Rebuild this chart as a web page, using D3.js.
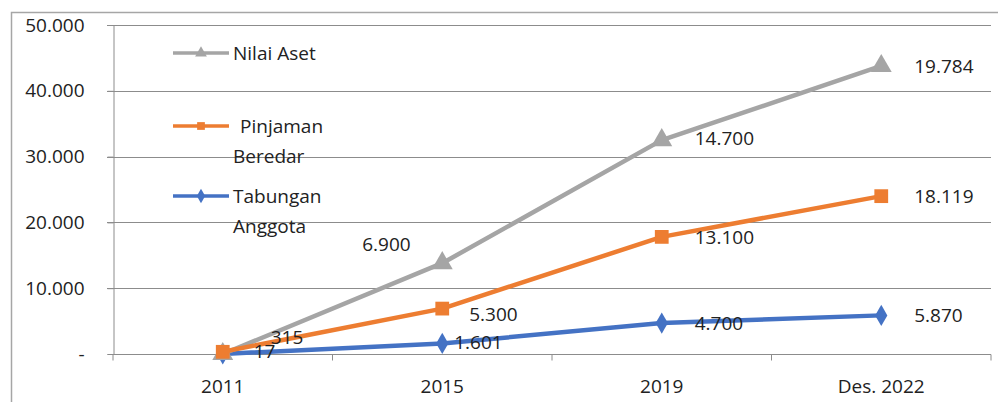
<!DOCTYPE html>
<html>
<head>
<meta charset="utf-8">
<script src="https://cdn.jsdelivr.net/npm/d3@7"></script>
<style>
  body { margin: 0; background: #fff; }
  svg { display: block; font-family: "Open Sans", sans-serif; }
</style>
</head>
<body>
<div class="chart"></div>
<script>
var width = 998, height = 402;
var fs = 19;

// data
var categories = ["2011", "2015", "2019", "Des. 2022"];
var tabungan = [17, 1601, 4700, 5870];
var pinjaman = [315, 5300, 13100, 18119];
var nilaiAset = [0, 6900, 14700, 19784];
var yTicks = [0, 10000, 20000, 30000, 40000, 50000];

// label text shown per point (null = no label)
var labelTab = ["17", "1.601", "4.700", "5.870"];
var labelPin = ["315", "5.300", "13.100", "18.119"];
var labelAset = [null, "6.900", "14.700", "19.784"];

// label offsets from the point (dx, dy)
var offTab = [[31, 4], [12, 6], [33, 7], [33, 7]];
var offPin = [[48, -8], [27, 12], [33, 7], [33, 7]];
var offAset = [[0, 0], [-80, -12], [33, 5], [33, 7]];

var svg = d3.select(".chart").append("svg")
    .attr("width", width)
    .attr("height", height);

// outer frame
svg.append("path")
    .attr("d", "M11.5," + height + "V12.5H" + width)
    .attr("fill", "none")
    .attr("stroke", "#a6a6a6")
    .attr("stroke-width", 1.5);

var x = d3.scaleBand().domain(categories).range([113, 991]);
var y = d3.scaleLinear().domain([0, 50000]).range([354, 25]);

// gridlines
svg.append("g").selectAll("line")
    .data(yTicks.slice(1))
    .enter().append("line")
    .attr("x1", 107).attr("x2", 991)
    .attr("y1", function(d) { return Math.round(y(d)) + 0.5; })
    .attr("y2", function(d) { return Math.round(y(d)) + 0.5; })
    .attr("stroke", "#8c8c8c")
    .attr("stroke-width", 1);

// y axis
var yAxis = d3.axisLeft(y)
    .tickValues(yTicks)
    .tickSize(6)
    .tickPadding(23)
    .tickFormat(function(d) { return d === 0 ? "-" : d3.format(",")(d).replace(/,/g, "."); });
var gy = svg.append("g").attr("transform", "translate(113.5,0)").call(yAxis);
gy.select(".domain").attr("stroke", "#8c8c8c");
gy.selectAll(".tick line").attr("stroke", "#8c8c8c");
gy.selectAll("text").attr("font-size", fs).attr("fill", "#222")
    .attr("font-family", "Open Sans, sans-serif");

// x axis
var gx = svg.append("g").attr("transform", "translate(0,354.5)");
gx.append("line").attr("x1", 113).attr("x2", 991).attr("stroke", "#8c8c8c");
var bounds = categories.map(function(c) { return x(c); }).concat([x.range()[1]]);
gx.selectAll(".tk").data(bounds).enter().append("line")
    .attr("x1", function(d) { return d; }).attr("x2", function(d) { return d; })
    .attr("y1", 0).attr("y2", 6).attr("stroke", "#8c8c8c");
gx.selectAll("text").data(categories).enter().append("text")
    .attr("x", function(d) { return x(d) + x.bandwidth() / 2; })
    .attr("y", 38)
    .attr("text-anchor", "middle")
    .attr("font-size", fs)
    .attr("fill", "#222")
    .text(function(d) { return d; });

// stacked values
var s1 = tabungan.slice();
var s2 = pinjaman.map(function(v, i) { return v + s1[i]; });
var s3 = nilaiAset.map(function(v, i) { return v === 0 ? 0 : v + s2[i]; });

var aset = { vals: s3, color: "#a5a5a5", marker: d3.symbolTriangle, size: 190, labels: labelAset, off: offAset };
var pinj = { vals: s2, color: "#ed7d31", marker: d3.symbolSquare, size: 190, labels: labelPin, off: offPin };
var tab = { vals: s1, color: "#4472c4", marker: d3.symbolDiamond, size: 130, labels: labelTab, off: offTab };
var series = [aset, pinj, tab];

function px(i) { return x(categories[i]) + x.bandwidth() / 2; }

var line = d3.line()
    .x(function(d, i) { return px(i); })
    .y(function(d) { return y(d); });

[tab, aset, pinj].forEach(function(s) {
  svg.append("path")
      .datum(s.vals)
      .attr("d", line)
      .attr("fill", "none")
      .attr("stroke", s.color)
      .attr("stroke-width", 4.5)
      .attr("stroke-linejoin", "round");
});

[tab, aset, pinj].forEach(function(s) {
  svg.append("g").selectAll("path")
      .data(s.vals).enter().append("path")
      .attr("transform", function(d, i) { return "translate(" + px(i) + "," + y(d) + ")"; })
      .attr("d", d3.symbol().type(s.marker).size(s.size))
      .attr("fill", s.color);
});

series.forEach(function(s) {
  var idx = d3.range(s.vals.length).filter(function(i) { return s.labels[i] !== null; });
  svg.append("g").selectAll("text")
      .data(idx).enter().append("text")
      .attr("x", function(i) { return px(i) + s.off[i][0]; })
      .attr("y", function(i) { return y(s.vals[i]) + s.off[i][1]; })
      .attr("font-size", fs)
      .attr("fill", "#222")
      .text(function(i) { return s.labels[i]; });
});

// legend
var legend = [
  { lines: ["Nilai Aset"], color: "#a5a5a5", marker: d3.symbolTriangle, y: 53, tx: [233] },
  { lines: ["Pinjaman", "Beredar"], color: "#ed7d31", marker: d3.symbolSquare, y: 126, tx: [240, 233] },
  { lines: ["Tabungan", "Anggota"], color: "#4472c4", marker: d3.symbolDiamond, y: 196, tx: [233, 233] }
];
var lg = svg.append("g");
legend.forEach(function(l) {
  lg.append("line")
      .attr("x1", 173).attr("x2", 229)
      .attr("y1", l.y).attr("y2", l.y)
      .attr("stroke", l.color).attr("stroke-width", 3.5);
  lg.append("path")
      .attr("transform", "translate(201," + l.y + ")")
      .attr("d", d3.symbol().type(l.marker).size(60))
      .attr("fill", l.color);
  l.lines.forEach(function(t, j) {
    lg.append("text")
        .attr("x", l.tx[j])
        .attr("y", l.y + 7 + j * 30)
        .attr("font-size", fs)
        .attr("fill", "#222")
        .text(t);
  });
});
</script>
</body>
</html>
